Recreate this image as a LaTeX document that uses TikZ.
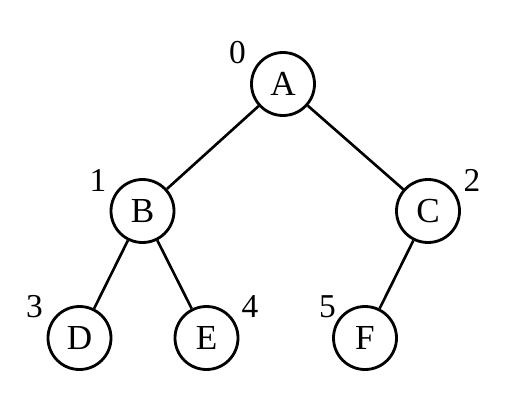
\documentclass[tikz,border=0pt]{standalone}
\usepackage{fontspec}
\setmainfont{Liberation Serif}
\usepackage{tikz}
\usetikzlibrary{positioning}
\tikzset{
  vertex/.style={draw=black, circle, line width=1.6pt, minimum size=1.26cm, inner sep=0pt,
    font=\fontsize{20}{23}\selectfont},
  idxlab/.style={inner sep=0pt, font=\fontsize{19}{22}\selectfont},
  edge/.style={line width=1.5pt},
}

\begin{document}
\begin{tikzpicture}
  \useasboundingbox (0,0) rectangle (10.6,8.16);
  % tree nodes
  \node[vertex] (A) at (5.66,6.48) {A};
  \node[vertex] (B) at (2.85,3.94) {B};
  \node[vertex] (C) at (8.56,3.94) {C};
  \node[vertex] (D) at (1.59,1.40) {D};
  \node[vertex] (E) at (4.13,1.40) {E};
  \node[vertex] (F) at (7.30,1.40) {F};
  % array indices
  \node[idxlab] (iA) at (4.75,7.11) {0};
  \node[idxlab] (iB) at (1.96,4.56) {1};
  \node[idxlab] (iC) at (9.44,4.56) {2};
  \node[idxlab] (iD) at (0.69,2.03) {3};
  \node[idxlab] (iE) at (5.00,2.03) {4};
  \node[idxlab] (iF) at (6.55,2.03) {5};
  % edges
  \draw[edge] (A) -- (B);
  \draw[edge] (A) -- (C);
  \draw[edge] (B) -- (D);
  \draw[edge] (B) -- (E);
  \draw[edge] (C) -- (F);
\end{tikzpicture}
\end{document}
